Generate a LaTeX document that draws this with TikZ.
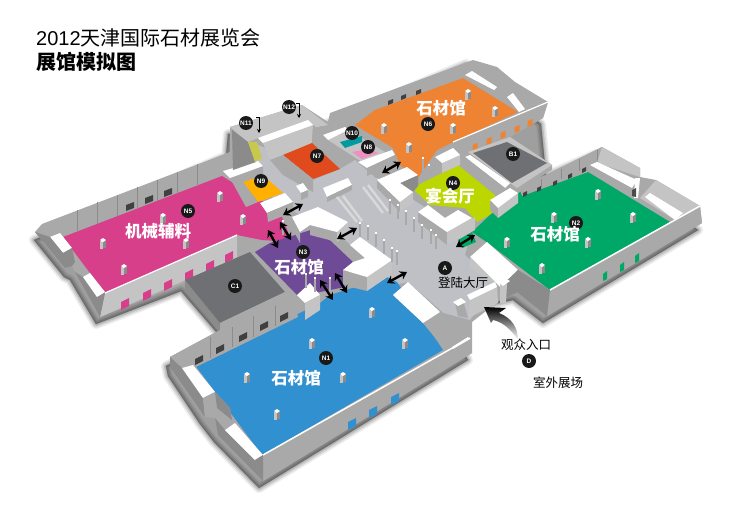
\documentclass[tikz,border=0pt]{standalone}
\usepackage{fontspec}
\setmainfont{Liberation Sans}
\newfontfamily\cjk{Noto Sans CJK SC}
\usetikzlibrary{arrows.meta}
\definecolor{wallgrey}{HTML}{A9A9A9}
\definecolor{walldark}{HTML}{8B8B8B}
\definecolor{walllight}{HTML}{C4C4C4}
\definecolor{lobbygrey}{HTML}{BEC0C6}
\definecolor{slabgrey}{HTML}{6E7073}
\definecolor{magentahall}{HTML}{D83F8A}
\definecolor{orangehall}{HTML}{EE8433}
\definecolor{purplehall}{HTML}{6F4A96}
\definecolor{limehall}{HTML}{BCD600}
\definecolor{greenhall}{HTML}{00A868}
\definecolor{bluehall}{HTML}{3090D0}
\definecolor{redroom}{HTML}{E04A1C}
\definecolor{goldroom}{HTML}{FFB000}
\definecolor{tealroom}{HTML}{009AA0}
\definecolor{pinkroom}{HTML}{F08FC0}
\definecolor{yellowroom}{HTML}{C8C84C}
\begin{document}
\begin{tikzpicture}[x=1pt,y=-1pt]
	\tikzstyle{wall} = [fill=wallgrey]
	\tikzstyle{wall_dark} = [fill=walldark]
	\tikzstyle{wall_light} = [fill=walllight]
	\tikzstyle{top_white} = [fill=white]
	\tikzstyle{lobby} = [fill=lobbygrey]
	\tikzstyle{badge} = [circle, fill=black!90, text=white, inner sep=0pt, minimum size=14pt, font=\fontsize{6.5}{6.5}\selectfont\bfseries]
	\tikzstyle{hall_label} = [text=white, font=\fontsize{16.5}{17}\selectfont\cjk\bfseries]
	\tikzstyle{map_label} = [text=black, font=\fontsize{12.5}{13}\selectfont\cjk]
	\tikzstyle{passage} = [{Stealth[length=7pt,width=9pt]}-{Stealth[length=7pt,width=9pt]}, line width=2.4pt, black]

	\useasboundingbox (0,0) rectangle (740,525);
	\fill[white] (0,0) rectangle (740,525);

%------------------------------------------------------------
	\node[anchor=base west, inner sep=0pt, font=\fontsize{20}{20}\selectfont] (title) at (36,45) {2012{\cjk 天津国际石材展览会}};
	\node[anchor=base west, inner sep=0pt, font=\fontsize{20}{20}\selectfont\cjk\bfseries] (subtitle) at (36,69) {展馆模拟图};

%------------------------------------------------------------
% shadows
	\foreach \w/\o in {10/.07,7/.09,4/.12,1/.15}{
		\fill[black, draw=black, line join=round, line width=\w pt, opacity=\o, xshift=-4pt, yshift=-4pt]
			(38,236)--(68,273)--(74,276)--(100,320)--(185,287)--(222,330)--(300,300)--(170,362)--(172,372)--(204,420)--(218,438)--(263,484)--(472,356)--(445,312)--(517,296)--(547,319)--(702,226)--(600,150)--(550,172)--(545,120)--(470,60)--(330,120)--(232,130)--(230,152)--cycle;
	}

%------------------------------------------------------------
% building mass
	\fill[wall] (35,232)--(42,224)--(230,152)--(230,127)--(302,105)--(328,122)--(330,113)--(473,60)--(497,67)--(515,82)--(548,102)--(543,118)--(510,137)--(552,165)--(552,170)--(525,185)--(602,147)--(640,168)--(640,177)--(656,180)--(700,206)--(702,223)--(547,316)--(517,292)--(500,300)--(472,322)--(472,353)--(263,481)--(218,435)--(215,418)--(205,417)--(170,367)--(170,357)--(220,330)--(185,283)--(100,317)--(75,272)--(72,266)--(65,268)--cycle;
	\fill[lobby] (340,185)--(378,178)--(470,235)--(465,255)--(497,285)--(470,320)--(440,312)--(408,282)--(395,285)--(345,240)--(300,215)--cycle;
	\fill[lobby] (232,172)--(258,145)--(283,155)--(313,180)--(340,169)--(355,160)--(378,180)--(340,190)--(300,215)--cycle;

%------------------------------------------------------------
% N5
	\fill[fill=magentahall] (63,237)--(222,176)--(280,212)--(292,242)--(262,240)--(237,235)--(105,293)--cycle;
	\fill[wall_light] (105,293)--(237,235)--(237,258)--(100,317)--cycle;
	\fill[wall_dark] (75,272)--(83,277)--(105,293)--(100,317)--cycle;
	\fill[top_white] (83,277)--(90,273)--(105,292)--(97,297)--cycle;
	\fill[top_white] (50,237)--(60,233)--(72,248)--(63,253)--cycle;
	\fill[wall_dark] (35,232)--(50,237)--(63,253)--(72,248)--(75,262)--(72,266)--(65,268)--cycle;
	\draw[white, line width=1.2pt] (105,293)--(237,235);
	\foreach \x in {77,97,117,137,157,177,197}{
		\draw[walldark, line width=.6pt] (\x,{224-.379*(\x-40)})--(\x,{237-.384*(\x-63)});
	}
	\foreach \x/\y in {130/206,149/199,168/192}{
		\fill[black!75] (\x-4,\y-1)--(\x+4,\y-4)--(\x+4,\y+2)--(\x-4,\y+5)--cycle;
	}
	\foreach \x/\y in {125/304,147/295,168/285,189/275,210/266,229/257}{
		\fill[fill=magentahall] (\x-4,\y-2)--(\x+4,\y-6)--(\x+4,\y+2)--(\x-4,\y+6)--cycle;
	}

%------------------------------------------------------------
% C1
	\fill[wall_dark] (185,280)--(220,323)--(220,333)--(185,289)--cycle;
	\fill[fill=slabgrey] (185,280)--(250,252)--(285,292)--(220,323)--cycle;
	\fill[wall] (220,323)--(285,292)--(285,300)--(220,333)--cycle;

%------------------------------------------------------------
% N3
	\fill[fill=purplehall] (255,252)--(270,243)--(317,228)--(353,262)--(345,287)--(320,292)--(297,295)--cycle;

%------------------------------------------------------------
% N1
	\fill[fill=bluehall] (195,365)--(320,303)--(330,295)--(387,277)--(397,282)--(443,350)--(262,455)--cycle;
	\fill[wall] (170,357)--(220,330)--(293,295)--(298,317)--(196,367)--(182,368)--cycle;
	\foreach \x in {210,232,253,275}{
		\draw[walldark, line width=.6pt] (\x,{357-.49*(\x-170)})--(\x,{365-.49*(\x-196)});
	}
	\foreach \x/\y in {199/360,220/349,243/337,264/326,284/317}{
		\fill[black!75] (\x-4,\y-1)--(\x+4,\y-5)--(\x+4,\y+1)--(\x-4,\y+5)--cycle;
	}
	\fill[top_white] (297,295)--(310,283)--(320,295)--(305,303)--cycle;
	\fill[walllight] (305,303)--(320,295)--(320,310)--(305,320)--cycle;
	\fill[wall_dark] (170,357)--(182,368)--(203,398)--(205,417)--(170,367)--cycle;
	\fill[top_white] (182,368)--(193,365)--(215,392)--(203,398)--cycle;
	\fill[wall] (203,398)--(215,392)--(230,408)--(232,420)--(217,415)--(205,417)--cycle;
	\fill[wall_dark] (215,392)--(230,408)--(232,420)--(217,408)--cycle;
	\fill[wall_dark] (215,418)--(225,430)--(255,460)--(263,481)--(218,435)--cycle;
	\fill[top_white] (225,430)--(235,423)--(263,455)--(255,460)--cycle;
	\fill[wall] (263,455)--(470,338)--(472,353)--(263,481)--cycle;
	\fill[wall_dark] (255,460)--(263,455)--(263,481)--cycle;
	\draw[white, line width=1.5pt] (263,455)--(470,338);
	\fill[wall] (393,295)--(423,323)--(445,350)--(452,347)--(468,337)--(440,310)--(408,282)--cycle;
	\fill[top_white] (393,295)--(408,282)--(440,312)--(423,323)--cycle;
	\fill[top_white] (452,347)--(468,337)--(470,339)--(453,349)--cycle;
	\foreach \x/\y in {352/424,373/412,395/399}{
		\fill[fill=bluehall] (\x-4,\y-2)--(\x+4,\y-6)--(\x+4,\y+2)--(\x-4,\y+6)--cycle;
	}

%------------------------------------------------------------
% N6, B1
	\fill[fill=orangehall] (463,78)--(518,112)--(453,142)--(437,150)--(418,178)--(400,165)--(393,148)--(355,125)--(375,110)--cycle;
	\fill[top_white] (465,75)--(472,71)--(497,87)--(494,90)--cycle;
	\fill[top_white] (507,97)--(513,93)--(525,109)--(519,112)--cycle;
	\foreach \x/\y in {390/103,403/98,418/93}{
		\fill[black!75] (\x-2,\y-2)--(\x+3,\y-4)--(\x+3,\y)--(\x-2,\y+2)--cycle;
	}
	\fill[wall] (453,142)--(548,102)--(543,118)--(510,137)--(468,152)--cycle;
	\draw[white, line width=1.2pt] (453,142)--(548,102);
	\foreach \x/\y in {530/123,517/129,503/135,489/141,475/147}{
		\fill[fill=orangehall] (\x-2.5,\y-2)--(\x+2.5,\y-4)--(\x+2.5,\y+2)--(\x-2.5,\y+4)--cycle;
	}
	\fill[wall_light] (468,152)--(510,137)--(552,165)--(517,188)--cycle;
	\fill[fill=slabgrey] (473,153)--(507,142)--(547,163)--(512,183)--cycle;
	\fill[top_white] (465,157)--(470,155)--(510,183)--(505,188)--cycle;
	\fill[wall] (458,160)--(465,157)--(505,188)--(505,198)--cycle;

%------------------------------------------------------------
% N4
	\fill[fill=limehall] (458,165)--(495,195)--(493,213)--(477,222)--(465,208)--(430,205)--(412,188)--cycle;

%------------------------------------------------------------
% N2
	\fill[fill=greenhall] (588,172)--(670,222)--(550,290)--(488,243)--(472,232)--(490,215)--(520,192)--cycle;
	\fill[fill=greenhall] (458,240)--(472,232)--(476,242)--(462,248)--cycle;
	\fill[wall] (520,190)--(602,147)--(597,163)--(588,172)--(522,196)--cycle;
	\foreach \x in {541,561,579,597}{
		\draw[walldark, line width=.6pt] (\x,{190-.52*(\x-520)})--(\x,{195-.42*(\x-522)});
	}
	\foreach \x/\y in {525/195,539/190,555/184,570/177,584/171}{
		\fill[black!75] (\x-2,\y-2)--(\x+2,\y-4)--(\x+2,\y)--(\x-2,\y+2)--cycle;
	}
	\fill[wall_light] (602,147)--(640,168)--(640,177)--(597,163)--cycle;
	\fill[top_white] (590,165)--(597,162)--(637,180)--(632,188)--cycle;
	\fill[wall_light] (656,180)--(700,206)--(675,220)--(640,198)--cycle;
	\fill[top_white] (645,197)--(650,193)--(683,213)--(675,220)--cycle;
	\fill[top_white] (635,178)--(640,178)--(638,198)--(634,198)--cycle;
	\fill[black!70] (632,190)--(636,188)--(636,197)--(632,196)--cycle;
	\fill[wall] (550,290)--(700,206)--(702,223)--(547,316)--cycle;
	\draw[white, line width=1.5pt] (550,290)--(700,206);
	\fill[wall_dark] (518,270)--(550,290)--(547,316)--(517,292)--cycle;
	\fill[top_white] (470,257)--(487,242)--(518,270)--(500,287)--cycle;
	\fill[wall_light] (470,257)--(500,287)--(498,285)--(470,268)--cycle;
	\fill[wall_dark] (500,287)--(518,270)--(518,292)--(500,300)--cycle;
	\foreach \x/\y in {605/276,622/267,637/258}{
		\fill[fill=greenhall] (\x-2,\y-2)--(\x+2,\y-5)--(\x+2,\y+3)--(\x-2,\y+5)--cycle;
	}

%------------------------------------------------------------
% entrance
	\fill[walllight] (470,300)--(497,285)--(498,303)--(468,318)--cycle;
	\fill[top_white] (467,295)--(495,282)--(497,287)--(470,300)--cycle;
	\fill[wall] (455,303)--(463,300)--(468,318)--(458,316)--cycle;
	\fill[top_white] (453,302)--(461,298)--(466,302)--(458,306)--cycle;
	\fill[walllight] (500,284)--(507,284)--(506,303)--(500,303)--cycle;
	\fill[top_white] (497,281)--(503,277)--(510,281)--(503,286)--cycle;

%------------------------------------------------------------
% upper rooms
	\fill[fill=goldroom] (243,182)--(263,175)--(283,193)--(258,202)--cycle;
	\fill[wall] (230,178)--(263,166)--(263,175)--(243,182)--(258,202)--(246,207)--cycle;
	\fill[top_white] (223,171)--(258,161)--(263,166)--(230,178)--cycle;
	\fill[top_white] (260,203)--(285,193)--(293,202)--(267,213)--cycle;
	\fill[wall] (267,213)--(293,202)--(293,212)--(268,222)--cycle;
	\fill[wall_light] (230,127)--(302,105)--(328,125)--(258,138)--(248,142)--cycle;
	\fill[wall_dark] (232,130)--(248,142)--(256,162)--(233,170)--cycle;
	\fill[fill=yellowroom] (248,142)--(257,142)--(262,158)--(255,162)--cycle;
	\fill[wall_light] (263,143)--(313,125)--(312,143)--(283,155)--(270,160)--cycle;
	\fill[top_white] (258,138)--(308,120)--(313,125)--(263,143)--cycle;
	\fill[wall] (313,125)--(345,150)--(340,169)--(312,143)--cycle;
	\fill[fill=redroom] (283,155)--(312,143)--(340,169)--(313,179)--cycle;
	\fill[wall] (270,160)--(283,155)--(313,179)--(313,192)--(283,175)--cycle;
	\fill[wall_light] (328,140)--(348,130)--(385,152)--(362,162)--cycle;
	\fill[fill=tealroom] (340,142)--(362,136)--(362,142)--(345,148)--cycle;
	\fill[fill=pinkroom] (352,152)--(369,149)--(378,153)--(362,159)--cycle;
	\fill[top_white] (323,135)--(345,127)--(348,130)--(328,140)--cycle;
	\fill[top_white] (358,162)--(392,150)--(395,155)--(367,168)--cycle;
	\fill[wall] (367,168)--(395,155)--(395,163)--(367,176)--cycle;
	\fill[top_white] (323,188)--(348,178)--(352,185)--(327,197)--cycle;
	\fill[wall] (327,197)--(352,185)--(352,190)--(327,202)--cycle;
	\fill[top_white] (296,186)--(303,183)--(308,190)--(301,193)--cycle;
	\fill[wall] (301,193)--(308,190)--(308,197)--(301,200)--cycle;

%------------------------------------------------------------
% escalators
	\foreach \a/\b/\c/\d in {337/197/357/222,343/196/362/221,363/187/383/213,368/185/388/211}{
		\draw[white!85!black, line width=2.4pt] (\a,\b)--(\c,\d);
	}

%------------------------------------------------------------
% blocks
	\fill[wall] (435,157)--(442,163)--(442,173)--(435,167)--cycle;
	\fill[wall_light] (442,163)--(460,155)--(460,165)--(442,173)--cycle;
	\fill[top_white] (435,157)--(453,148)--(460,155)--(442,163)--cycle;
	\fill[wall] (490,200)--(498,208)--(498,218)--(490,210)--cycle;
	\fill[wall_light] (498,208)--(518,193)--(518,203)--(498,218)--cycle;
	\fill[top_white] (490,200)--(510,188)--(518,193)--(498,208)--cycle;
	\fill[wall] (418,212)--(447,232)--(447,245)--(418,222)--cycle;
	\fill[wall_light] (447,232)--(475,217)--(475,230)--(447,245)--cycle;
	\fill[top_white] (418,212)--(428,205)--(445,218)--(458,210)--(472,218)--(447,232)--cycle;
	\fill[wall] (377,180)--(400,202)--(400,212)--(377,188)--cycle;
	\fill[wall_light] (400,202)--(413,192)--(413,203)--(400,212)--cycle;
	\fill[wall_dark] (400,183)--(418,175)--(418,186)--(413,192)--cycle;
	\fill[top_white] (377,180)--(407,167)--(418,175)--(400,183)--(413,192)--(400,202)--cycle;
	\fill[wall] (292,217)--(300,232)--(300,243)--(292,228)--cycle;
	\fill[wall] (310,225)--(337,232)--(337,242)--(310,235)--cycle;
	\fill[wall_light] (337,232)--(348,222)--(348,232)--(337,242)--cycle;
	\fill[top_white] (292,217)--(318,207)--(348,222)--(337,232)--(310,225)--(300,232)--cycle;
	\fill[wall] (343,270)--(367,277)--(367,291)--(343,285)--cycle;
	\fill[wall_light] (367,277)--(392,260)--(392,274)--(367,291)--cycle;
	\fill[top_white] (350,245)--(360,237)--(392,260)--(367,277)--(343,270)--(353,262)--(365,258)--cycle;

%------------------------------------------------------------
% posts
	\foreach \x/\y in {360/230,368/233,376/240,384/247,392/255,397/258,390/207,398/212,406/218,414/225,422/232,431/237,436/242,423/165,429/172,330/285,315/285,306/281,283/228}{
		\fill[fill=wallgrey] (\x-1.2,\y-7) rectangle (\x+1.2,\y+7);
		\fill[white] (\x-1.2,\y-8) rectangle (\x+1.2,\y-6);
	}
	\foreach \x/\y in {598/195,554/218,633/218,507/243,588/243,542/269,372/313,312/344,405/344,247/378,343/378,277/415,220/197,163/219,243/220,103/244,186/244,124/270,468/95,495/112,384/129,453/129,409/148}{
		\fill[wall_dark] (\x-3,\y-3) rectangle (\x+3,\y+4);
		\fill[wall_light] (\x-3,\y-3) rectangle (\x,\y+5);
		\fill[top_white] (\x-3,\y-4)--(\x,\y-6)--(\x+3,\y-4)--(\x,\y-2)--cycle;
	}

%------------------------------------------------------------
	\draw[passage] (283,215)--(303,204);
	\draw[passage] (268,230)--(278,248);
	\draw[passage] (280,222)--(291,240);
	\draw[passage] (337,239)--(357,228);
	\draw[passage] (382,173)--(401,162);
	\draw[passage] (456,247)--(475,235);
	\draw[passage] (387,283)--(407,272);
	\draw[passage] (320,280)--(333,300);
	\draw[passage] (335,273)--(347,293);
	\draw[-{Stealth[length=4pt,width=4pt]}, line width=.8pt] (256,117)--(259,117)--(259,133);
	\draw[-{Stealth[length=4pt,width=4pt]}, line width=.8pt] (296,103)--(299,103)--(299,118);

%------------------------------------------------------------
% way in
	\shade[top color=black, bottom color=white] (484,307)--(506,308)--(499,313) .. controls (512,318) and (518,328) .. (518,340) .. controls (510,328) and (502,322) .. (493,320)--(491,323)--cycle;

%------------------------------------------------------------
	\node[badge] (n1) at (326,358) {N1};
	\node[badge] (n2) at (576,223) {N2};
	\node[badge] (n3) at (303,252) {N3};
	\node[badge] (n4) at (453,183) {N4};
	\node[badge] (n5) at (188,211) {N5};
	\node[badge] (n6) at (428,124) {N6};
	\node[badge] (n7) at (317,156) {N7};
	\node[badge] (n8) at (368,147) {N8};
	\node[badge] (n9) at (261,181) {N9};
	\node[badge] (n10) at (352,133) {N10};
	\node[badge] (n11) at (246,123) {N11};
	\node[badge] (n12) at (289,107) {N12};
	\node[badge] (a) at (445,268) {A};
	\node[badge] (b1) at (513,154) {B1};
	\node[badge] (c1) at (235,286) {C1};
	\node[badge] (d) at (529,361) {D};

	\node[hall_label] (label_n6) at (441,108) {石材馆};
	\node[hall_label] (label_n2) at (555,234) {石材馆};
	\node[hall_label] (label_n1) at (296,378) {石材馆};
	\node[hall_label] (label_n3) at (299,267) {石材馆};
	\node[hall_label] (label_n5) at (158,231) {机械辅料};
	\node[hall_label] (label_n4) at (450,196) {宴会厅};
	\node[map_label] (label_a) at (463,283) {登陆大厅};
	\node[map_label] (label_in) at (526,345) {观众入口};
	\node[map_label] (label_d) at (558,383) {室外展场};
\end{tikzpicture}
\end{document}
